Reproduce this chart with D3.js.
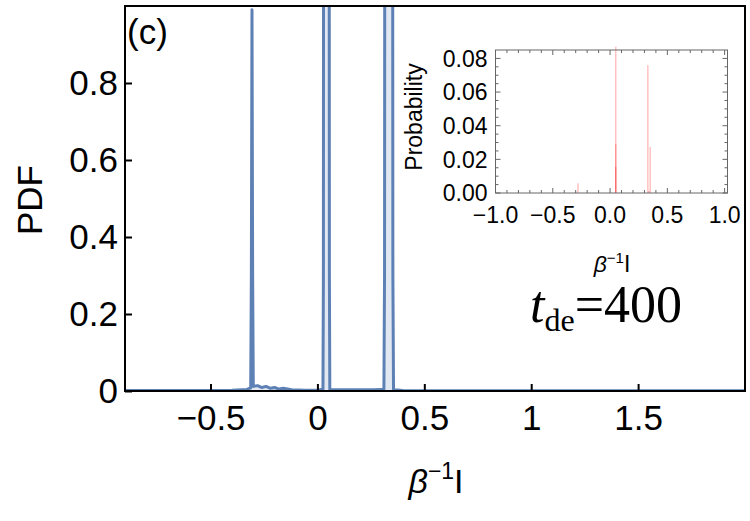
<!DOCTYPE html>
<html><head><meta charset="utf-8">
<script src="https://cdn.jsdelivr.net/npm/d3@7"></script>
<style>
body{margin:0;background:#fff;}
svg{display:block;}
text{font-family:"Liberation Sans",Arial,sans-serif;fill:#000;}
</style></head>
<body>
<svg id="c" width="750" height="521"></svg>
<script>
// ---- data ----
const pdfX = [-0.9,-0.7,-0.5,-0.4,-0.33,-0.312,-0.309,-0.306,-0.303,-0.3,-0.28,-0.26,-0.24,-0.22,-0.2,-0.18,-0.16,-0.12,-0.06,0.0,0.02,0.026,0.028,0.031,0.053,0.056,0.058,0.064,0.1,0.18,0.26,0.3,0.311,0.314,0.318,0.349,0.353,0.356,0.36,0.4,0.6,1.0,1.5,2.0];
const pdfY = [0.001,0.001,0.001,0.002,0.004,0.008,0.3,0.99,0.3,0.012,0.014,0.009,0.012,0.007,0.009,0.005,0.007,0.003,0.002,0.002,0.004,0.004,0.3,4.0,4.0,0.3,0.004,0.004,0.003,0.003,0.003,0.004,0.004,0.3,4.0,4.0,0.3,0.003,0.003,0.001,0.0008,0.0005,0.0005,0.0005];
const xTickVals = [-0.5,0,0.5,1,1.5];
const xTickLabels = ["\u22120.5","0","0.5","1","1.5"];
const yTickVals = [0,0.2,0.4,0.6,0.8];
const yTickLabels = ["0","0.2","0.4","0.6","0.8"];

// inset histogram layers (overlaid, translucent)
const insetLayer1X = [-0.28,0.05,0.33,0.35];
const insetLayer1Y = [0.0057,0.087,0.076,0.0274];
const insetLayer2X = [0.05,0.34];
const insetLayer2Y = [0.029,0.0012];
const insetLayer3X = [0.05];
const insetLayer3Y = [0.0155];
const insetXTickVals = [-1,-0.5,0,0.5,1];
const insetXTickLabels = ["\u22121.0","\u22120.5","0.0","0.5","1.0"];
const insetYTickVals = [0,0.02,0.04,0.06,0.08];
const insetYTickLabels = ["0.00","0.02","0.04","0.06","0.08"];

// ---- main plot ----
const svg = d3.select("#c");
const L=125,R=745,T=6,B=391;
const x = d3.scaleLinear().domain([-0.9,2.0]).range([L,R]);
const y = d3.scaleLinear().domain([0,1]).range([B,T]);

svg.append("clipPath").attr("id","mclip").append("rect")
  .attr("x",L).attr("y",T).attr("width",R-L).attr("height",B-T);

const pts = pdfX.map((v,i)=>[v,pdfY[i]]);
svg.append("path").datum(pts)
  .attr("clip-path","url(#mclip)")
  .attr("d",d3.area().x(d=>x(d[0])).y0(B).y1(d=>y(d[1])))
  .attr("fill","#5E81B5").attr("fill-opacity",0.18);
svg.append("path").datum(pts)
  .attr("clip-path","url(#mclip)")
  .attr("d",d3.line().x(d=>x(d[0])).y(d=>y(d[1])))
  .attr("fill","none").attr("stroke","#5E81B5").attr("stroke-width",3)
  .attr("stroke-linejoin","round");

// frame
svg.append("rect").attr("x",L).attr("y",T).attr("width",R-L).attr("height",B-T)
  .attr("fill","none").attr("stroke","#000").attr("stroke-width",2);

// axes
const xAxis = d3.axisBottom(x).tickValues(xTickVals).tickFormat((d,i)=>xTickLabels[i])
  .tickSizeInner(-7).tickSizeOuter(0).tickPadding(14);
const gx = svg.append("g").attr("transform",`translate(0,${B})`).call(xAxis);
gx.select(".domain").remove();
gx.selectAll("line").attr("stroke","#000").attr("stroke-width",2);
gx.selectAll("text").style("font-size","35px").attr("dy","0.71em");

const yAxis = d3.axisLeft(y).tickValues(yTickVals).tickFormat((d,i)=>yTickLabels[i])
  .tickSizeInner(-7).tickSizeOuter(0).tickPadding(7);
const gy = svg.append("g").attr("transform",`translate(${L},0)`).call(yAxis);
gy.select(".domain").remove();
gy.selectAll("line").attr("stroke","#000").attr("stroke-width",2);
gy.selectAll("text").style("font-size","35px");

svg.append("text").attr("transform","translate(42,200) rotate(-90)")
  .attr("text-anchor","middle").style("font-size","35px").text("PDF");

svg.append("text").attr("x",127).attr("y",44).style("font-size","35px").text("(c)");

const xl = svg.append("text").attr("x",436).attr("y",493).attr("text-anchor","middle").style("font-size","34px");
xl.append("tspan").style("font-style","italic").text("\u03B2");
xl.append("tspan").attr("dy",-14).style("font-size","23px").text("\u22121");
xl.append("tspan").attr("dy",14).text("I");

const td = svg.append("text").attr("x",530).attr("y",322)
  .style("font-family","'Liberation Serif','Times New Roman',serif").style("font-size","52px");
td.append("tspan").style("font-style","italic").text("t");
td.append("tspan").attr("dy",9).style("font-size","32px").text("de");
td.append("tspan").attr("dy",-9).text("=400");

// ---- inset ----
const iL=495.5,iR=727.5,iT=50,iB=193;
const ix = d3.scaleLinear().domain([-1.0,1.025]).range([iL,iR]);
const iy = d3.scaleLinear().domain([0,0.085]).range([iB,iT]);
const ig = svg.append("g");
ig.append("rect").attr("x",iL).attr("y",iT).attr("width",iR-iL).attr("height",iB-iT).attr("fill","#fff");

function bars(xs,ys){
  ig.selectAll(null).data(xs.map((v,i)=>[v,ys[i]])).enter().append("rect")
    .attr("x",d=>ix(d[0])-0.6).attr("width",1.2)
    .attr("y",d=>iy(d[1])).attr("height",d=>iB-iy(d[1]))
    .attr("fill","rgba(255,0,0,0.3)");
}
bars(insetLayer1X,insetLayer1Y);
bars(insetLayer2X,insetLayer2Y);
bars(insetLayer3X,insetLayer3Y);

const gc="#666";
ig.append("rect").attr("x",iL).attr("y",iT).attr("width",iR-iL).attr("height",iB-iT)
  .attr("fill","none").attr("stroke",gc).attr("stroke-width",1);
// minor / major ticks on all sides
const xMinor = d3.range(-10,11).map(k=>k/10);
xMinor.forEach(v=>{
  const major = Math.abs(v*2-Math.round(v*2))<1e-9;
  const len = major?5:3;
  ig.append("line").attr("x1",ix(v)).attr("x2",ix(v)).attr("y1",iB).attr("y2",iB-len).attr("stroke",gc);
  ig.append("line").attr("x1",ix(v)).attr("x2",ix(v)).attr("y1",iT).attr("y2",iT+len).attr("stroke",gc);
});
const yMinor = d3.range(0,17).map(k=>k*0.005);
yMinor.forEach((v,k)=>{
  const major = k%4===0;
  const len = major?5:3;
  ig.append("line").attr("x1",iL).attr("x2",iL+len).attr("y1",iy(v)).attr("y2",iy(v)).attr("stroke",gc);
  ig.append("line").attr("x1",iR).attr("x2",iR-len).attr("y1",iy(v)).attr("y2",iy(v)).attr("stroke",gc);
});
ig.selectAll(null).data(insetXTickVals).enter().append("text")
  .attr("x",d=>ix(d)).attr("y",223).attr("text-anchor","middle").style("font-size","23px")
  .text((d,i)=>insetXTickLabels[i]);
ig.selectAll(null).data(insetYTickVals).enter().append("text")
  .attr("x",iL-8).attr("y",d=>iy(d)).attr("dy","0.36em").attr("text-anchor","end").style("font-size","23px")
  .text((d,i)=>insetYTickLabels[i]);
ig.append("text").attr("transform","translate(422,117) rotate(-90)")
  .attr("text-anchor","middle").style("font-size","23px").text("Probability");
const il = ig.append("text").attr("x",612).attr("y",272).attr("text-anchor","middle").style("font-size","23px");
il.append("tspan").style("font-style","italic").text("\u03B2");
il.append("tspan").attr("dy",-9).style("font-size","15px").text("\u22121");
il.append("tspan").attr("dy",9).text("I");
</script>
</body></html>
